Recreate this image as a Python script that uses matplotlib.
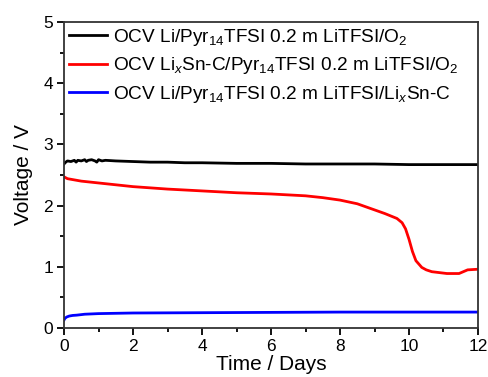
import matplotlib
matplotlib.use("Agg")
import matplotlib.pyplot as plt
from matplotlib.ticker import MultipleLocator

plt.rcParams['font.family'] = ['Liberation Sans', 'DejaVu Sans']
plt.rcParams['mathtext.fontset'] = 'custom'
plt.rcParams['mathtext.rm'] = 'Liberation Sans'
plt.rcParams['mathtext.it'] = 'Liberation Sans:italic'

# Black: OCV Li/Pyr14TFSI 0.2 m LiTFSI/O2
black_days = [0.0, 0.05, 0.1, 0.2, 0.3, 0.35, 0.4, 0.5, 0.6, 0.65, 0.7, 0.8, 0.9, 0.95, 1.0, 1.1, 1.2,
              1.5, 2.0, 2.5, 3.0, 3.5, 4.0, 5.0, 6.0, 7.0, 8.0, 9.0, 10.0, 11.0, 12.0]
black_volts = [2.68, 2.71, 2.73, 2.72, 2.74, 2.71, 2.74, 2.73, 2.75, 2.72, 2.74, 2.75, 2.73, 2.71, 2.75, 2.73, 2.74,
               2.73, 2.72, 2.71, 2.71, 2.70, 2.70, 2.69, 2.69, 2.68, 2.68, 2.68, 2.67, 2.67, 2.67]

# Red: OCV LixSn-C/Pyr14TFSI 0.2 m LiTFSI/O2
red_days = [0.0, 0.1, 0.3, 0.5, 1.0, 1.5, 2.0, 3.0, 4.0, 5.0, 6.0, 7.0, 7.5, 8.0, 8.5, 9.0, 9.3,
            9.65, 9.8, 9.9, 10.0, 10.1, 10.2, 10.37, 10.5, 10.66, 11.1, 11.45, 11.7, 12.0]
red_volts = [2.47, 2.44, 2.42, 2.40, 2.37, 2.34, 2.31, 2.27, 2.24, 2.21, 2.19, 2.16, 2.13, 2.09, 2.03, 1.93, 1.87,
             1.79, 1.72, 1.62, 1.45, 1.25, 1.10, 0.99, 0.95, 0.92, 0.89, 0.89, 0.95, 0.96]

# Blue: OCV Li/Pyr14TFSI 0.2 m LiTFSI/LixSn-C
blue_days = [0.0, 0.03, 0.08, 0.15, 0.25, 0.37, 0.6, 1.0, 2.0, 4.0, 6.0, 8.0, 10.0, 12.0]
blue_volts = [0.13, 0.16, 0.18, 0.195, 0.205, 0.21, 0.225, 0.235, 0.245, 0.25, 0.255, 0.26, 0.26, 0.26]

labels = [r"OCV Li/Pyr$_{14}$TFSI 0.2 m LiTFSI/O$_{2}$",
          r"OCV Li$_{x}$Sn-C/Pyr$_{14}$TFSI 0.2 m LiTFSI/O$_{2}$",
          r"OCV Li/Pyr$_{14}$TFSI 0.2 m LiTFSI/Li$_{x}$Sn-C"]

fig = plt.figure(figsize=(4.89, 3.77), dpi=100)
ax = fig.add_axes([0.1309, 0.130, 0.8466, 0.8116])

ax.plot(black_days, black_volts, color='black', lw=2.0, label=labels[0])
ax.plot(red_days, red_volts, color='#ff0000', lw=2.0, label=labels[1])
ax.plot(blue_days, blue_volts, color='#0000ff', lw=2.0, label=labels[2])

ax.set_xlim(0, 12)
ax.set_ylim(0, 5)
ax.xaxis.set_major_locator(MultipleLocator(2))
ax.xaxis.set_minor_locator(MultipleLocator(1))
ax.yaxis.set_major_locator(MultipleLocator(1))
ax.yaxis.set_minor_locator(MultipleLocator(0.5))
ax.tick_params(which='major', direction='out', length=5, width=1.3, labelsize=12.5, pad=3)
ax.tick_params(which='minor', direction='out', length=3, width=1.3)
for s in ax.spines.values():
    s.set_linewidth(1.3)
    s.set_color('#333333')

ax.set_xlabel("Time / Days", fontsize=15, labelpad=1)
ax.set_ylabel("Voltage / V", fontsize=15, labelpad=7)

ax.legend(loc='upper left', frameon=False, fontsize=13.7, handlelength=2.0, handletextpad=0.35,
          labelspacing=0.4, borderaxespad=0.2, borderpad=0.05)

fig.savefig("out.png", dpi=100)
